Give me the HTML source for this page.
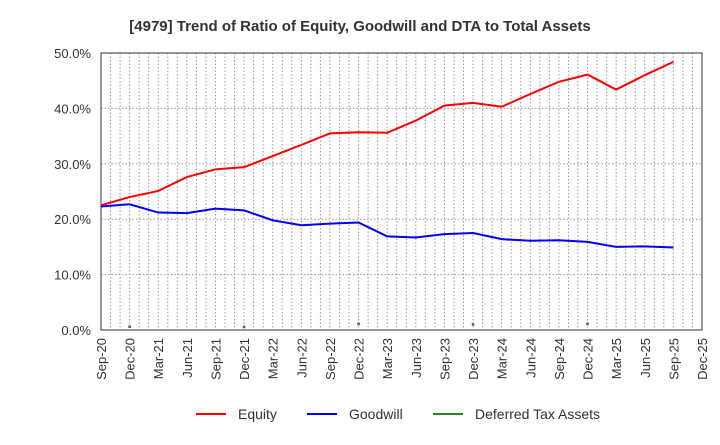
<!DOCTYPE html>
<html><head><meta charset="utf-8"><style>
body{margin:0;background:#fff;}
svg text{font-family:"Liberation Sans",Arial,sans-serif;}
</style></head><body>
<svg id="c" width="720" height="440" xmlns="http://www.w3.org/2000/svg">
<text x="360" y="31" text-anchor="middle" font-size="15" font-weight="bold" fill="#333">[4979]  Trend of Ratio of Equity, Goodwill and DTA to Total Assets</text>
<g id="g"></g>
<line x1="196" y1="414" x2="226" y2="414" stroke="#ff0000" stroke-width="2"/>
<text x="238" y="419" font-size="14" fill="#333">Equity</text>
<line x1="307" y1="414" x2="337" y2="414" stroke="#0000ff" stroke-width="2"/>
<text x="349" y="419" font-size="14" fill="#333">Goodwill</text>
<line x1="433" y1="414" x2="463" y2="414" stroke="#228b22" stroke-width="2"/>
<text x="475" y="419" font-size="14" fill="#333">Deferred Tax Assets</text>
</svg>
<script>
var L=101,R=702,T=53,B=330,s='';
var q=(R-L)/21,m=(R-L)/63;
function y(v){return B-(B-T)*v/50;}
for(var i=1;i<63;i++){var x=L+m*i;s+='<line x1="'+x+'" y1="'+T+'" x2="'+x+'" y2="'+B+'" stroke="#999" stroke-width="1" stroke-dasharray="1.5,2"/>';}
for(var v=10;v<50;v+=10){s+='<line x1="'+L+'" y1="'+y(v)+'" x2="'+R+'" y2="'+y(v)+'" stroke="#999" stroke-width="1" stroke-dasharray="1.5,2"/>';}
for(var v=0;v<=50;v+=10){s+='<text x="91" y="'+(y(v)+5)+'" text-anchor="end" font-size="13" fill="#333">'+v.toFixed(1)+'%</text>';}
var lab=[];var mo=['Mar','Jun','Sep','Dec'];
for(var i=0;i<22;i++){var k=(i+2)%4;var yr=20+Math.floor((i+2)/4);lab.push(mo[k]+'-'+yr);}
for(var i=0;i<22;i++){var x=L+q*i;s+='<text transform="translate('+(x+5)+',338) rotate(-90)" text-anchor="end" font-size="13" fill="#333">'+lab[i]+'</text>';}
s+='<rect x="'+L+'" y="'+T+'" width="'+(R-L)+'" height="'+(B-T)+'" fill="none" stroke="#333" stroke-width="1"/>';
var eq=[22.5,24.0,25.1,27.6,29.0,29.4,31.4,33.4,35.5,35.7,35.6,37.8,40.5,41.0,40.3,42.6,44.8,46.1,43.4,46.0,48.4];
var gw=[22.3,22.7,21.2,21.1,21.9,21.6,19.8,18.9,19.2,19.4,16.9,16.7,17.3,17.5,16.4,16.1,16.2,15.9,15.0,15.1,14.9];
function pl(a,c){return '<polyline fill="none" stroke="'+c+'" stroke-width="2" points="'+a.map(function(v,i){return (L+q*i)+','+y(v);}).join(' ')+'"/>';}
s+=pl(gw,'#0000ff')+pl(eq,'#ff0000');
[[1,0.6],[5,0.55],[9,1.1],[13,1.0],[17,1.1]].forEach(function(p){s+='<rect x="'+(L+q*p[0]-1.3)+'" y="'+(y(p[1])-1.3)+'" width="2.6" height="2.6" fill="#228b22"/>';});
document.getElementById('g').innerHTML=s;
</script>
</body></html>
